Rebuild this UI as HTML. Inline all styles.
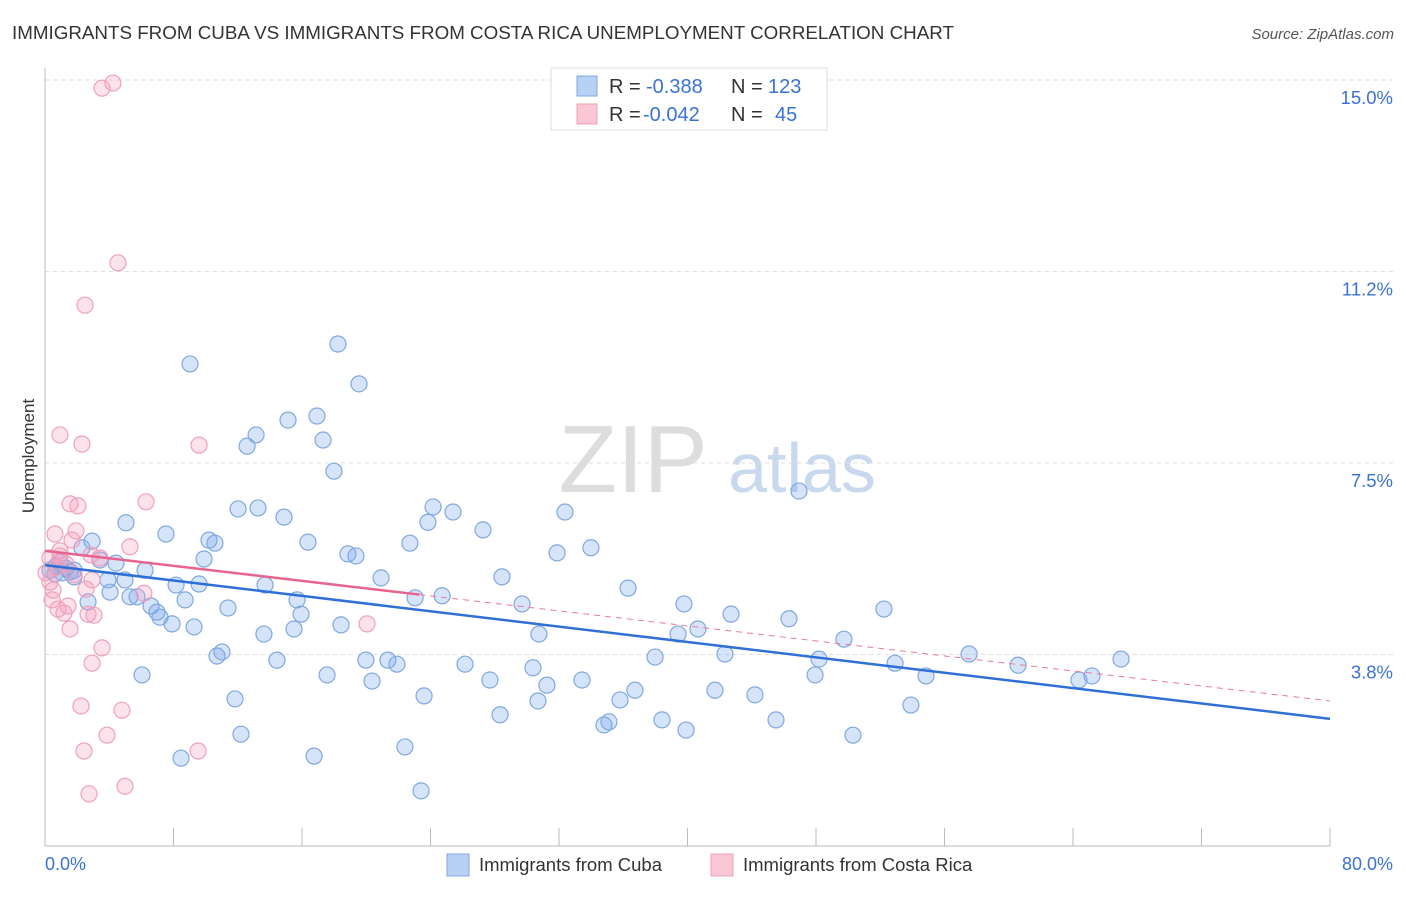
<!DOCTYPE html>
<html><head><meta charset="utf-8"><style>
body{margin:0;background:#fff;font-family:"Liberation Sans",sans-serif}
svg text{font-family:"Liberation Sans",sans-serif}
</style></head><body>
<svg id="c" width="1406" height="892">
<text x="12" y="39" font-size="18.8" fill="#333">IMMIGRANTS FROM CUBA VS IMMIGRANTS FROM COSTA RICA UNEMPLOYMENT CORRELATION CHART</text>
<text x="1394" y="39" font-size="15" fill="#555" font-style="italic" text-anchor="end">Source: ZipAtlas.com</text>
<text x="34" y="456" font-size="17" fill="#333" text-anchor="middle" transform="rotate(-90 34 456)">Unemployment</text>
<g><text x="633" y="492" font-size="96" fill="#ddd" font-family="Liberation Serif" text-anchor="middle">ZIP</text><text x="802" y="492" font-size="70" fill="#c8d8ef" text-anchor="middle">atlas</text></g>
<g id="grid"></g><g id="marks"></g><g id="trend"></g>
<g>
<rect x="551" y="68" width="276" height="62" fill="#fff" stroke="#ddd"/>
<rect x="577" y="76" width="20" height="20" fill="#b8d0f3" stroke="#7fa8e0"/>
<text x="609" y="93" font-size="20" fill="#333">R = </text><text x="646" y="93" font-size="20" fill="#3a72d4">-0.388</text>
<text x="731" y="93" font-size="20" fill="#333">N = </text><text x="768" y="93" font-size="20" fill="#3a72d4">123</text>
<rect x="577" y="104" width="20" height="20" fill="#f9c7d6" stroke="#f0a0bb"/>
<text x="609" y="121" font-size="20" fill="#333">R = </text><text x="643" y="121" font-size="20" fill="#3a72d4">-0.042</text>
<text x="731" y="121" font-size="20" fill="#333">N = </text><text x="775" y="121" font-size="20" fill="#3a72d4">45</text>
</g>
<g>
<rect x="447" y="854" width="22" height="22" fill="#b8d0f3" stroke="#7fa8e0"/><text x="479" y="871" font-size="18.5" fill="#333">Immigrants from Cuba</text>
<rect x="711" y="854" width="22" height="22" fill="#f9c7d6" stroke="#f0a0bb"/><text x="743" y="871" font-size="18.5" fill="#333">Immigrants from Costa Rica</text>
</g>
<text x="45" y="870" font-size="18" fill="#3a72d4">0.0%</text>
<text x="1393" y="870" font-size="18" fill="#3a72d4" text-anchor="end">80.0%</text>
</svg>
<script>
const yTicks=[15.0,11.25,7.5,3.75];
const yTickLabels=["15.0%","11.2%","7.5%","3.8%"];
const xTicks=[0,8,16,24,32,40,48,56,64,72,80];
const cubaPx=[[190,364],[338,344],[359,384],[288,420],[317,416],[256,435],[247,446],[323,440],[334,471],[799,491],[126,523],[166,534],[238,509],[258,508],[284,517],[209,540],[215,543],[204,559],[308,542],[348,554],[356,556],[410,543],[433,507],[428,522],[453,512],[483,530],[565,512],[557,553],[591,548],[92,541],[82,548],[100,560],[116,563],[145,570],[125,580],[108,580],[110,592],[130,597],[137,597],[151,606],[157,612],[160,617],[172,624],[176,585],[185,600],[199,584],[228,608],[265,585],[297,600],[301,614],[294,629],[264,634],[194,627],[381,578],[415,598],[442,596],[502,577],[522,604],[539,634],[628,588],[684,604],[698,629],[678,634],[731,614],[789,619],[844,639],[884,609],[655,657],[725,654],[819,659],[895,663],[926,676],[969,654],[1018,665],[1079,680],[1092,676],[1121,659],[341,625],[366,660],[388,660],[397,664],[372,681],[327,675],[277,660],[217,656],[222,652],[142,675],[235,699],[424,696],[465,664],[490,680],[533,668],[547,685],[538,701],[582,680],[635,690],[620,700],[715,690],[755,695],[815,675],[911,705],[500,715],[604,725],[609,722],[662,720],[686,730],[776,720],[853,735],[241,734],[181,758],[314,756],[405,747],[421,791],[56,566],[62,573],[70,572],[74,570],[50,570],[55,574],[60,562],[66,568],[74,577],[88,602]];
const costaPx=[[113,83],[102,88],[118,263],[85,305],[60,435],[82,444],[199,445],[146,502],[70,504],[78,506],[55,534],[76,531],[72,540],[130,547],[100,558],[91,555],[60,551],[50,558],[66,564],[57,567],[74,575],[53,590],[92,580],[86,589],[144,593],[68,606],[58,609],[64,613],[94,615],[88,614],[70,629],[367,624],[102,648],[92,663],[81,706],[122,710],[107,735],[84,751],[198,751],[125,786],[89,794],[50,582],[52,600],[60,556],[46,573]];
const cubaX=cubaPx.map(p=>+((p[0]-45)/1285*80).toFixed(2)), cubaY=cubaPx.map(p=>+((846-p[1])/766*15).toFixed(2));
const costaX=costaPx.map(p=>+((p[0]-45)/1285*80).toFixed(2)), costaY=costaPx.map(p=>+((846-p[1])/766*15).toFixed(2));
const cubaTrend=[5.50,2.49], costaTrend=[5.78,2.84], costaSolidEnd=23.3;
const X=v=>45+v/80*1285, Y=v=>846-v/15*766;
const NS="http://www.w3.org/2000/svg";
function mk(t,a,p){const e=document.createElementNS(NS,t);for(const k in a)e.setAttribute(k,a[k]);p.appendChild(e);return e;}
const g=document.getElementById('grid');
yTicks.forEach((v,i)=>{const l=mk('line',{x1:45,x2:1394,y1:Y(v),y2:Y(v),stroke:'#ddd','stroke-dasharray':'4,4'},g);

const t=mk('text',{x:1393,y:Y(v)+24,'font-size':18.5,fill:'#3a72d4','text-anchor':'end'},g);t.textContent=yTickLabels[i];
});
const ax=mk('line',{x1:45,x2:45,y1:68,y2:846,stroke:'#bbb'},g);
const bx=mk('line',{x1:45,x2:1330,y1:846,y2:846,stroke:'#bbb'},g);
xTicks.forEach(v=>{const l=mk('line',{x1:X(v),x2:X(v),y1:828,y2:846,stroke:'#bbb'},g);});
const m=document.getElementById('marks');
cubaX.forEach((x,i)=>{const c=mk('circle',{cx:X(x),cy:Y(cubaY[i]),r:8,fill:'rgba(120,165,235,0.3)',stroke:'#7fa8e0','stroke-width':1.2},m);
});
costaX.forEach((x,i)=>{const c=mk('circle',{cx:X(x),cy:Y(costaY[i]),r:8,fill:'rgba(245,160,190,0.3)',stroke:'#f0a0bb','stroke-width':1.2},m);
});
const tr=document.getElementById('trend');
const cl=v=>costaTrend[0]+(costaTrend[1]-costaTrend[0])*v/80;
const d1=mk('line',{x1:X(costaSolidEnd),y1:Y(cl(costaSolidEnd)),x2:X(80),y2:Y(costaTrend[1]),stroke:'#e97a9d','stroke-width':1,'stroke-dasharray':'6,5'},tr);

const d2=mk('line',{x1:X(0),y1:Y(costaTrend[0]),x2:X(costaSolidEnd),y2:Y(cl(costaSolidEnd)),stroke:'#e8638e','stroke-width':2.5},tr);

const d3=mk('line',{x1:X(0),y1:Y(cubaTrend[0]),x2:X(80),y2:Y(cubaTrend[1]),stroke:'#2f6fd8','stroke-width':2.5},tr);

</script>
</body></html>
